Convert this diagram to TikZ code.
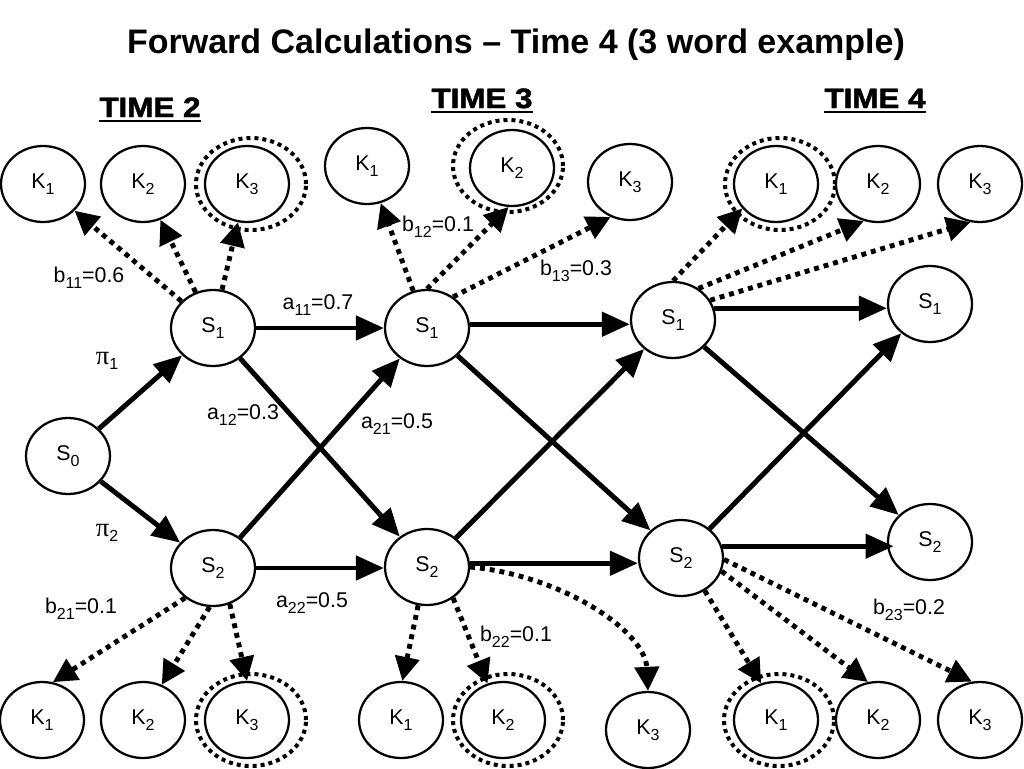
\documentclass[tikz,border=0pt]{standalone}
\usepackage{fontspec}
\usepackage{graphicx}
\setmainfont{Liberation Sans}
\newfontfamily\serifpi{Liberation Serif}
\newfontfamily\heavyfont[FakeBold=1.6]{Liberation Sans Bold}
\newcommand{\sbs}[1]{\raisebox{-4.2pt}{\fontsize{12}{13}\selectfont #1}}
\usetikzlibrary{shapes.geometric,arrows.meta}
\begin{document}
\begin{tikzpicture}[x=0.75pt,y=-0.75pt,
  st/.style={ellipse,draw,line width=1.7pt,minimum width=63pt,minimum height=57pt,inner sep=0pt,font=\fontsize{16}{18}\selectfont},
  ring/.style={ellipse,draw,line width=3pt,dash pattern=on 3pt off 3pt,minimum width=82.5pt,minimum height=69pt,inner sep=0pt},
  sol/.style={line width=3.7pt,-{Triangle[length=21pt,width=18pt]}},
  dotar/.style={line width=3.7pt,dash pattern=on 3.7pt off 3.7pt,-{Triangle[length=18pt,width=18pt]}},
  lab/.style={font=\fontsize{16}{18}\selectfont,inner sep=0pt},
  tlab/.style={font=\fontsize{21}{24}\heavyfont,inner sep=0pt,anchor=base},
  uline/.style={line width=1.6pt},
]
\useasboundingbox (0,0) rectangle (1024,768);
% title
\node[anchor=base,inner sep=0pt,font=\fontsize{25.5}{28}\selectfont\bfseries] (title) at (516,53) {Forward Calculations -- Time 4 (3 word example)};
% time labels
\node[tlab] (t2) at (150,117) {\scalebox{1.12}[1]{TIME 2}};
\node[tlab] (t3) at (482,108) {\scalebox{1.12}[1]{TIME 3}};
\node[tlab] (t4) at (875,108) {\scalebox{1.12}[1]{TIME 4}};
\draw[uline] ([yshift=-3pt]t2.base west) -- ([yshift=-3pt]t2.base east);
\draw[uline] ([yshift=-3pt]t3.base west) -- ([yshift=-3pt]t3.base east);
\draw[uline] ([yshift=-3pt]t4.base west) -- ([yshift=-3pt]t4.base east);
% state nodes
\node[st] (S0) at (68,456) {S\sbs{0}};
\node[st] (A1) at (213,328) {S\sbs{1}};
\node[st] (A2) at (213,568) {S\sbs{2}};
\node[st] (B1) at (427,328) {S\sbs{1}};
\node[st] (B2) at (427,567) {S\sbs{2}};
\node[st] (C1) at (673,320) {S\sbs{1}};
\node[st] (C2) at (681,558) {S\sbs{2}};
\node[st] (D1) at (930,304) {S\sbs{1}};
\node[st] (D2) at (930,542) {S\sbs{2}};
% top K nodes
\node[st] (ka1) at (43,184) {K\sbs{1}};
\node[st] (ka2) at (143,184) {K\sbs{2}};
\node[st] (ka3) at (247,184) {K\sbs{3}};
\node[ring] (ra) at (251,184) {};
\node[st] (kb1) at (367,166) {K\sbs{1}};
\node[st] (kb2) at (512,168) {K\sbs{2}};
\node[st] (kb3) at (630,182) {K\sbs{3}};
\node[ring] (rb) at (508,166) {};
\node[st] (kc1) at (776,184) {K\sbs{1}};
\node[st] (kc2) at (878,184) {K\sbs{2}};
\node[st] (kc3) at (980,184) {K\sbs{3}};
\node[ring] (rc) at (780,184) {};
% bottom K nodes
\node[st] (la1) at (42,720) {K\sbs{1}};
\node[st] (la2) at (143,720) {K\sbs{2}};
\node[st] (la3) at (247,720) {K\sbs{3}};
\node[ring] (rla) at (251,720) {};
\node[st] (lb1) at (401,720) {K\sbs{1}};
\node[st] (lb2) at (503,720) {K\sbs{2}};
\node[st] (lb3) at (648,730) {K\sbs{3}};
\node[ring] (rlb) at (508,720) {};
\node[st] (lc1) at (776,720) {K\sbs{1}};
\node[st] (lc2) at (878,720) {K\sbs{2}};
\node[st] (lc3) at (980,720) {K\sbs{3}};
\node[ring] (rlc) at (779,720) {};
% solid transitions
\draw[sol] (S0) -- (A1);
\draw[sol] (S0) -- (A2);
\draw[sol] (A1.east) -- (B1.west);
\draw[sol] (A1) -- (B2);
\draw[sol] (A2) -- (B1);
\draw[sol] (A2.east) -- (A2.east -| B2.west);
\draw[sol] (B1.5) -- (B1.5 -| C1.west);
\draw[sol] (B1) -- (C2);
\draw[sol] (B2) -- (C1);
\draw[sol] (B2.5) -- (B2.5 -| C2.west);
\draw[sol] (C1.16) -- (C1.16 -| D1.west);
\draw[sol] (C1) -- (D2);
\draw[sol] (C2) -- (D1);
\draw[sol] (C2.16) -- ([xshift=5pt]C2.16 -| D2.west);
% emissions top
\draw[dotar] (A1) -- (ka1);
\draw[dotar] (A1) -- (ka2);
\draw[dotar] (A1) -- (ka3);
\draw[dotar] (B1) -- (kb1);
\draw[dotar] (B1.north) -- (kb2.265);
\draw[dotar] (B1.50) -- (kb3.241);
\draw[dotar] (C1.north) -- (kc1.216);
\draw[dotar] (C1.51) -- (kc2.249);
\draw[dotar] (C1.28) -- (kc3.256);
% emissions bottom
\draw[dotar] (A2.227) -- (la1.74);
\draw[dotar] (A2.265) -- (la2.62);
\draw[dotar] (A2.295) -- (la3.north);
\draw[dotar] (B2.257) -- (lb1.88);
\draw[dotar] (B2.310) -- (lb2.113);
\draw[dotar] (B2.east) .. controls (560,575) and (645,630) .. (lb3.north);
\draw[dotar] (C2.306) -- (lc1.112);
\draw[dotar] (C2.342) -- (lc2.105);
\draw[dotar] (C2.358) -- (lc3.102);
% labels
\node[lab] (lb11) at (89,278) {b\sbs{11}=0.6};
\node[lab] (lpi1) at (107,361) {{\fontsize{20}{22}\serifpi π}\sbs{1}};
\node[lab] (lpi2) at (107,533) {{\fontsize{20}{22}\serifpi π}\sbs{2}};
\node[lab] (la11) at (318,305) {a\sbs{11}=0.7};
\node[lab] (la12) at (243,415) {a\sbs{12}=0.3};
\node[lab] (la21) at (397,424) {a\sbs{21}=0.5};
\node[lab] (la22) at (312,603) {a\sbs{22}=0.5};
\node[lab] (lb12) at (438,227) {b\sbs{12}=0.1};
\node[lab] (lb13) at (576,271) {b\sbs{13}=0.3};
\node[lab] (lb21) at (81,609) {b\sbs{21}=0.1};
\node[lab] (lb22) at (516,637) {b\sbs{22}=0.1};
\node[lab] (lb23) at (909,610) {b\sbs{23}=0.2};
\end{tikzpicture}
\end{document}
